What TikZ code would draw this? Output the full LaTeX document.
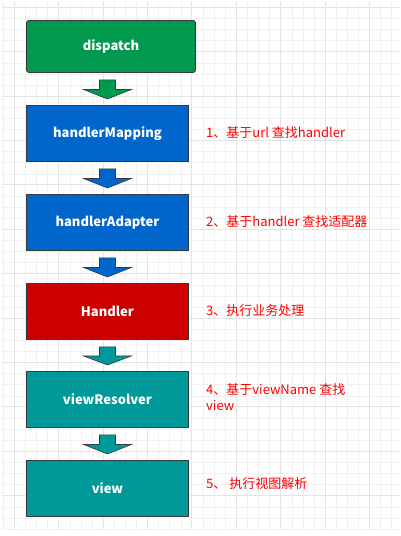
\documentclass[tikz,border=0pt]{standalone}
\usepackage{fontspec}
\setmainfont{Noto Sans CJK SC}
\usetikzlibrary{calc}
\definecolor{cgreen}{HTML}{00994D}
\definecolor{cblue}{HTML}{0066CC}
\definecolor{cred}{HTML}{CC0000}
\definecolor{cteal}{HTML}{009999}
\definecolor{cborder}{HTML}{36393D}
\definecolor{gridminor}{HTML}{F0F0F0}
\definecolor{gridmajor}{HTML}{E4E4E4}
\definecolor{lblred}{HTML}{FF0000}
\tikzset{
  box/.style={draw=cborder, line width=0.9pt, anchor=north west, minimum width=162pt, minimum height=56pt,
    inner sep=0pt, text=white, font=\fontsize{13}{15}\selectfont\bfseries},
  note/.style={anchor=west, text=lblred, inner sep=0pt, align=left, font=\fontsize{13}{16}\selectfont},
  fatarrowstyle/.style={draw=cborder, line width=0.6pt, line join=miter}
}
\newcommand\fatarrow[3]{%
  \path let \p1=($(#1.south)+(0,-7pt)$), \p2=($(#2.north)+(0,6pt)$), \n3={(\y1+\y2)/2} in
    [fatarrowstyle, fill=#3] (\x2-8pt,\y1) -- (\x2+8pt,\y1) -- (\x2+8pt,\n3) -- (\x2+24pt,\n3) -- (\x2,\y2)
    -- (\x2-24pt,\n3) -- (\x2-8pt,\n3) -- cycle;}
\begin{document}
\begin{tikzpicture}[x=1pt,y=-1pt]
\useasboundingbox (0,0) rectangle (401,536);
\fill[white] (0,0) rectangle (401,536);
% grid
\foreach \k in {0,...,35}{
  \pgfmathtruncatemacro\m{mod(\k,4)}
  \ifnum\m=1 \draw[gridmajor, line width=0.9pt] ({3.2+11.1*\k},2) -- ({3.2+11.1*\k},530);
  \else \draw[gridminor, line width=0.6pt] ({3.2+11.1*\k},2) -- ({3.2+11.1*\k},530); \fi}
\foreach \k in {0,...,47}{
  \pgfmathtruncatemacro\m{mod(\k,4)}
  \ifnum\m=0 \draw[gridmajor, line width=0.9pt] (2,{7.3+11.1*\k}) -- (399,{7.3+11.1*\k});
  \else \draw[gridminor, line width=0.6pt] (2,{7.3+11.1*\k}) -- (399,{7.3+11.1*\k}); \fi}
% boxes
\node[box, fill=cgreen, rounded corners=2.5pt, minimum width=169pt, minimum height=52pt] (dispatch) at (26,20) {dispatch};
\node[box, fill=cblue] (mapping) at (26,105) {handlerMapping};
\node[box, fill=cblue] (adapter) at (26,194) {handlerAdapter};
\node[box, fill=cred] (handler) at (26,283) {Handler};
\node[box, fill=cteal] (resolver) at (26,371) {viewResolver};
\node[box, fill=cteal] (view) at (26,460) {view};
% arrows
\fatarrow{dispatch}{mapping}{cgreen}
\fatarrow{mapping}{adapter}{cblue}
\fatarrow{adapter}{handler}{cblue}
\fatarrow{handler}{resolver}{cteal}
\fatarrow{resolver}{view}{cteal}
% labels
\node[note] (n1) at (206,133) {1、基于url 查找handler};
\node[note] (n2) at (206,222) {2、基于handler 查找适配器};
\node[note] (n3) at (206,311) {3、执行业务处理};
\node[note] (n4) at (206,397) {4、基于viewName 查找\\view};
\node[note] (n5) at (206,484) {5、 执行视图解析};
\end{tikzpicture}
\end{document}
